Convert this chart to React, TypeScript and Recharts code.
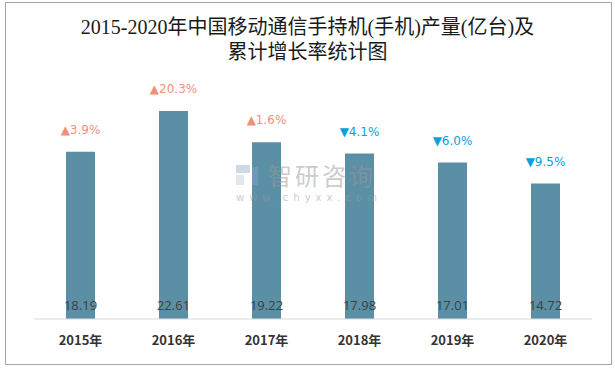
import React from 'react';
import { BarChart, Bar, XAxis, YAxis, LabelList } from 'recharts';

const years = ['2015年', '2016年', '2017年', '2018年', '2019年', '2020年'];
const output = [18.19, 22.61, 19.22, 17.98, 17.01, 14.72];
const growth = [3.9, 20.3, 1.6, -4.1, -6.0, -9.5];

const chartData = years.map((year, i) => ({ year, output: output[i], growth: growth[i] }));

const upColor = '#f0907a';
const downColor = '#0aa0dc';

const ValueLabel = (props: any) => {
  const { x, y, width, height, value } = props;
  return (
    <text
      x={x + width / 2}
      y={y + height - 9}
      textAnchor="middle"
      fontSize={13}
      fill="#404040"
      fontFamily="'Open Sans', 'Noto Sans', sans-serif"
    >
      {value.toFixed(2)}
    </text>
  );
};

const GrowthLabel = (props: any) => {
  const { x, y, width, index } = props;
  const g = growth[index];
  const up = g >= 0;
  return (
    <text
      x={x + width / 2}
      y={y - 18}
      textAnchor="middle"
      fontSize={12}
      fill={up ? upColor : downColor}
      fontFamily="'DejaVu Sans', sans-serif"
    >
      {(up ? '▲' : '▼') + Math.abs(g).toFixed(1) + '%'}
    </text>
  );
};

const App = () => {
  return (
    <div style={{ position: 'absolute', left: 0, top: 0, width: 615, height: 368, background: '#fff' }}>
      <div
        style={{
          position: 'absolute',
          left: 5,
          top: 2,
          width: 605,
          height: 361,
          border: '1px solid #a6a6a6',
        }}
      />
      <div
        style={{
          position: 'absolute',
          left: 0,
          top: 15,
          width: 615,
          textAlign: 'center',
          fontSize: 20,
          lineHeight: '25px',
          color: '#1a1a1a',
          fontFamily: "'Liberation Serif', 'Noto Sans CJK SC', serif",
        }}
      >
        2015-2020年中国移动通信手持机(手机)产量(亿台)及
        <br />
        累计增长率统计图
      </div>
      <div style={{ position: 'absolute', left: 0, top: 0 }}>
        <BarChart
          width={615}
          height={368}
          data={chartData}
          margin={{ top: 89, right: 23, bottom: 19, left: 34 }}
        >
          <XAxis
            dataKey="year"
            height={30}
            axisLine={{ stroke: '#d9d9d9' }}
            tickLine={false}
            tickMargin={11}
            tick={{ fontSize: 13, fontWeight: 'bold', fill: '#333', fontFamily: "'Noto Sans CJK SC', sans-serif" }}
          />
          <YAxis hide domain={[0, 25]} />
          <Bar dataKey="output" fill="#5a8fa6" barSize={29} isAnimationActive={false}>
            <LabelList dataKey="output" content={ValueLabel} />
            <LabelList dataKey="growth" content={GrowthLabel} />
          </Bar>
        </BarChart>
      </div>
      <div style={{ position: 'absolute', left: 236, top: 160, opacity: 0.5, pointerEvents: 'none' }}>
        <svg width={24} height={22} style={{ position: 'absolute', left: 0, top: 5 }}>
          <rect x={0} y={0} width={14} height={8} fill="#9fb4cc" />
          <rect x={0} y={10} width={8} height={10} fill="#c4d0de" />
          <rect x={16} y={2} width={6} height={18} fill="#7fa3cc" />
        </svg>
        <div
          style={{
            position: 'absolute',
            left: 32,
            top: 0,
            fontSize: 24,
            lineHeight: '30px',
            letterSpacing: 3,
            whiteSpace: 'nowrap',
            color: '#9a9a9a',
            fontFamily: "'Noto Sans CJK SC', sans-serif",
          }}
        >
          智研咨询
        </div>
        <div
          style={{
            position: 'absolute',
            left: 0,
            top: 32,
            fontSize: 10,
            lineHeight: '12px',
            letterSpacing: 5,
            whiteSpace: 'nowrap',
            color: '#9a9a9a',
            fontFamily: "'DejaVu Sans', sans-serif",
          }}
        >
          www.chyxx.com
        </div>
      </div>
    </div>
  );
};

export default App;
